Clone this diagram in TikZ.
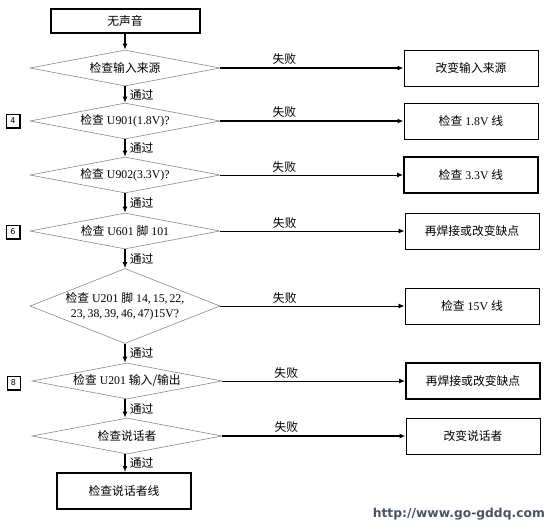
\documentclass[tikz,border=0pt]{standalone}
\usepackage{fontspec}
\setmainfont{Liberation Serif}
\newfontfamily\cjk{Noto Sans CJK SC}
\newfontfamily\urlfont{DejaVu Sans}
\usetikzlibrary{shapes.geometric,arrows.meta}
\newcommand\zh[1]{{\cjk #1}}
\definecolor{urlc}{HTML}{4B5266}
\definecolor{dline}{HTML}{8A8A8A}
\tikzset{
  every node/.style={font=\fontsize{11.8}{15}\selectfont, inner sep=1pt},
  box/.style={draw, line width=1pt, minimum width=134pt, minimum height=36pt, inner sep=0pt},
  thickbox/.style={box, line width=2pt},
  dia/.style={draw=dline, line width=0.6pt, diamond, minimum width=190pt, minimum height=36pt, inner sep=0pt},
  flow/.style={-{Latex[length=6pt,width=5pt]}, line width=1.8pt},
  thinflow/.style={-{Latex[length=6pt,width=5pt]}, line width=0.9pt},
  fail/.style={above, pos=0.35, inner sep=2.5pt},
  pass/.style={right, pos=0.5, xshift=3pt},
  numbox/.style={draw, line width=0.6pt, minimum width=13pt, minimum height=13pt, inner sep=0pt, font=\urlfont\fontsize{8}{8}\selectfont}
}
\begin{document}
\begin{tikzpicture}[x=1pt, y=-1pt]
\useasboundingbox (0,0) rectangle (553,528);

% main column
\node[thickbox, minimum width=149pt, minimum height=24pt] (start) at (125,21) {\zh{无声音}};
\node[dia] (d1) at (125,68) {};
\node (t1) at (d1.center) {\zh{检查输入来源}};
\node[dia] (d2) at (125,121) {};
\node (t2) at (d2.center) {\zh{检查} U901(1.8V)?};
\node[dia] (d3) at (125,175) {};
\node (t3) at (d3.center) {\zh{检查} U902(3.3V)?};
\node[dia] (d4) at (125,231) {};
\node (t4) at (d4.center) {\zh{检查} U601 \zh{脚} 101};
\node[dia, minimum height=75pt] (d5) at (125,306) {};
\node[align=center] (t5) at (d5.center) {\zh{检查} U201 \zh{脚} 14,\,15,\,22,\\ 23,\,38,\,39,\,46,\,47)15V?};
\node[dia] (d6) at (127,381) {};
\node (t6) at (d6.center) {\zh{检查} U201 \zh{输入/输出}};
\node[dia] (d7) at (127,436) {};
\node (t7) at (d7.center) {\zh{检查说话者}};
\node[thickbox] (end) at (124,491) {\zh{检查说话者线}};

% right column
\node[box] (r1) at (471,68) {\zh{改变输入来源}};
\node[box] (r2) at (471,121) {\zh{检查} 1.8V \zh{线}};
\node[thickbox] (r3) at (471,175) {\zh{检查} 3.3V \zh{线}};
\node[box] (r4) at (472,231) {\zh{再焊接或改变缺点}};
\node[box] (r5) at (472,306) {\zh{检查} 15V \zh{线}};
\node[thickbox] (r6) at (473,381) {\zh{再焊接或改变缺点}};
\node[box] (r7) at (473,436) {\zh{改变说话者}};

% number tags
\node[numbox] (n4) at (13,121) {4};
\node[numbox] (n6) at (13,232) {6};
\node[numbox] (n8) at (13.5,383) {8};
\foreach \n in {n4,n6,n8}{
  \draw[line width=1.4pt] (\n.north east) -- (\n.south east) -- (\n.south west);
}

% vertical connectors
\draw[flow] (start.south) -- (d1.north);
\draw[flow] (d1.south) -- node[pass] {\zh{通过}} (d2.north);
\draw[flow] (d2.south) -- node[pass] {\zh{通过}} (d3.north);
\draw[flow] (d3.south) -- node[pass] {\zh{通过}} (d4.north);
\draw[flow] (d4.south) -- node[pass] {\zh{通过}} (d5.north);
\draw[flow] (d5.south) -- node[pass] {\zh{通过}} (d5.south |- d6.north);
\draw[flow] (d6.south -| d5.south) -- node[pass] {\zh{通过}} (d5.south |- d7.north);
\draw[flow] (d7.south -| d5.south) -- node[pass] {\zh{通过}} (d5.south |- end.north);

% horizontal connectors
\draw[flow] (d1.east) -- node[fail] {\zh{失败}} (r1.west);
\draw[flow] (d2.east) -- node[fail] {\zh{失败}} (r2.west);
\draw[thinflow] (d3.east) -- node[fail] {\zh{失败}} (r3.west);
\draw[thinflow] (d4.east) -- node[fail] {\zh{失败}} (r4.west);
\draw[thinflow] (d5.east) -- node[fail] {\zh{失败}} (r5.west);
\draw[thinflow] (d6.east) -- node[fail] {\zh{失败}} (r6.west);
\draw[flow] (d7.east) -- node[fail] {\zh{失败}} (r7.west);

% watermark
\node[anchor=east, text=urlc, font=\urlfont\bfseries\fontsize{12.3}{13}\selectfont] (url) at (546,514) {http://www.go-gddq.com};
\end{tikzpicture}
\end{document}
